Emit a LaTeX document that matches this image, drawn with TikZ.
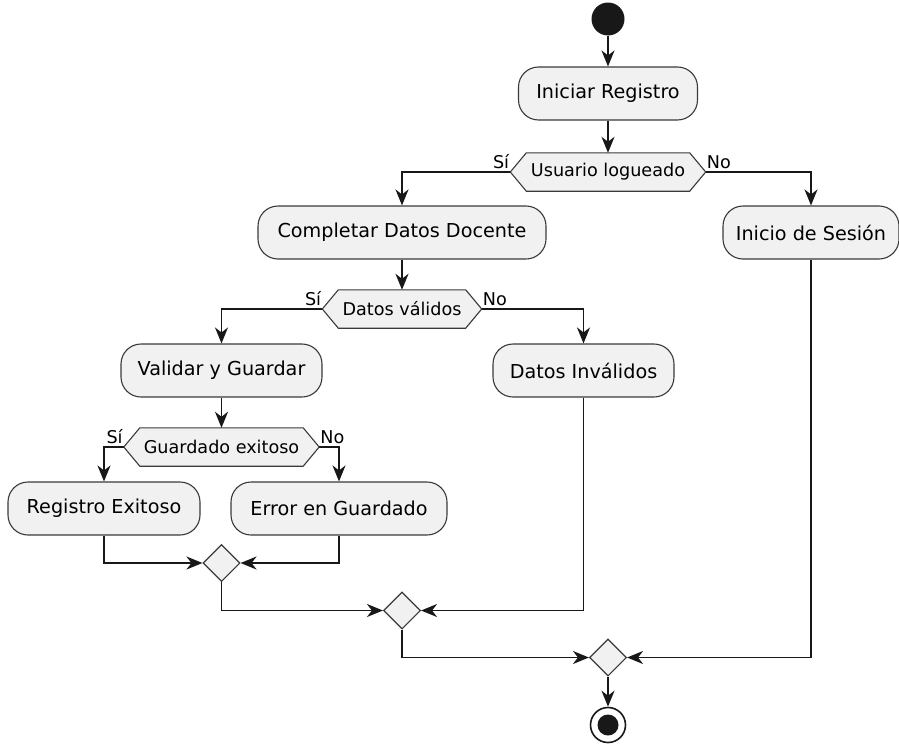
\documentclass[tikz,border=0pt]{standalone}
\usepackage{fontspec}
\setmainfont{DejaVu Sans}
\usetikzlibrary{arrows.meta,shapes.geometric,backgrounds}

\definecolor{ink}{HTML}{181818}
\definecolor{boxfill}{HTML}{F1F1F1}
\definecolor{boxline}{HTML}{3A3A3A}

\tikzset{
  activity/.style={rectangle, rounded corners=20pt, draw=boxline, line width=1.1pt,
    fill=boxfill, minimum height=53pt, inner sep=0pt,
    font=\fontsize{19.2}{22}\selectfont},
  hexlabel/.style={rectangle, draw=none, minimum height=38pt, inner sep=0pt,
    font=\fontsize{17.6}{20}\selectfont},
  hexline/.style={draw=boxline, line width=1.1pt, fill=boxfill},
  merge/.style={diamond, aspect=1, draw=boxline, line width=1.1pt, fill=boxfill,
    minimum width=37pt, minimum height=37pt, inner sep=0pt},
  guard/.style={inner sep=0pt, font=\fontsize{17.6}{20}\selectfont},
  flow/.style={draw=ink, line width=1.8pt,
    -{Stealth[length=16pt, width=13pt, inset=5pt]}},
}

\newcommand{\hexframe}[1]{%
  \begin{pgfonlayer}{background}
    \path[hexline] (#1.west) -- ([xshift=16pt]#1.north west) -- ([xshift=-16pt]#1.north east)
      -- (#1.east) -- ([xshift=-16pt]#1.south east) -- ([xshift=16pt]#1.south west) -- cycle;
  \end{pgfonlayer}}

\begin{document}
\begin{tikzpicture}[x=1pt, y=-1pt]
  \useasboundingbox (0,0) rectangle (899,744);

  % start and end markers
  \node[circle, fill=ink, minimum size=33pt, inner sep=0pt] (start) at (608,19) {};
  \node[circle, draw=ink, line width=1.6pt, fill=white, minimum size=35pt, inner sep=0pt] (stop) at (608,725) {};
  \node[circle, fill=ink, minimum size=21pt, inner sep=0pt] (stopdot) at (stop.center) {};

  % activities
  \node[activity, minimum width=179pt] (b1) at (608,93.5) {Iniciar Registro};
  \node[activity, minimum width=288pt] (b2) at (402,232.5) {Completar Datos Docente};
  \node[activity, minimum width=176pt] (b3) at (811,232.5) {Inicio de Sesión};
  \node[activity, minimum width=201pt] (b4) at (221.5,370.5) {Validar y Guardar};
  \node[activity, minimum width=181pt] (b5) at (583.5,370.5) {Datos Inválidos};
  \node[activity, minimum width=192pt] (b7) at (104,508.5) {Registro Exitoso};
  \node[activity, minimum width=216pt] (b6) at (339,508.5) {Error en Guardado};

  % decisions
  \node[hexlabel, minimum width=195pt] (h1) at (608,172) {Usuario logueado};
  \hexframe{h1}
  \node[hexlabel, minimum width=159pt] (h2) at (402,309) {Datos válidos};
  \hexframe{h2}
  \node[hexlabel, minimum width=195pt] (h3) at (221.5,447) {Guardado exitoso};
  \hexframe{h3}

  % merges
  \node[merge] (d1) at (221.5,563) {};
  \node[merge] (d2) at (402,610.5) {};
  \node[merge] (d3) at (608,657.5) {};

  % guard labels
  \node[guard, anchor=base east] (g1) at ([xshift=-1pt, yshift=4pt]h1.west) {Sí};
  \node[guard, anchor=base west] (g2) at ([xshift=1pt, yshift=4pt]h1.east) {No};
  \node[guard, anchor=base east] (g3) at ([xshift=-1pt, yshift=4pt]h2.west) {Sí};
  \node[guard, anchor=base west] (g4) at ([xshift=1pt, yshift=4pt]h2.east) {No};
  \node[guard, anchor=base east] (g5) at ([xshift=-1pt, yshift=4pt]h3.west) {Sí};
  \node[guard, anchor=base west] (g6) at ([xshift=1pt, yshift=4pt]h3.east) {No};

  % flow
  \draw[flow] (start) -- (b1);
  \draw[flow] (b1) -- (h1);
  \draw[flow] (h1.west) -| (b2.north);
  \draw[flow] (h1.east) -| (b3.north);
  \draw[flow] (b2) -- (h2);
  \draw[flow] (h2.west) -| (b4.north);
  \draw[flow] (h2.east) -| (b5.north);
  \draw[flow] (b4) -- (h3);
  \draw[flow] (h3.west) -| (b7.north);
  \draw[flow] (h3.east) -| (b6.north);
  \draw[flow] (b7.south) |- (d1.west);
  \draw[flow] (b6.south) |- (d1.east);
  \draw[flow] (d1.south) |- (d2.west);
  \draw[flow] (b5.south) |- (d2.east);
  \draw[flow] (d2.south) |- (d3.west);
  \draw[flow] (b3.south) |- (d3.east);
  \draw[flow] (d3) -- (stop);
\end{tikzpicture}
\end{document}
